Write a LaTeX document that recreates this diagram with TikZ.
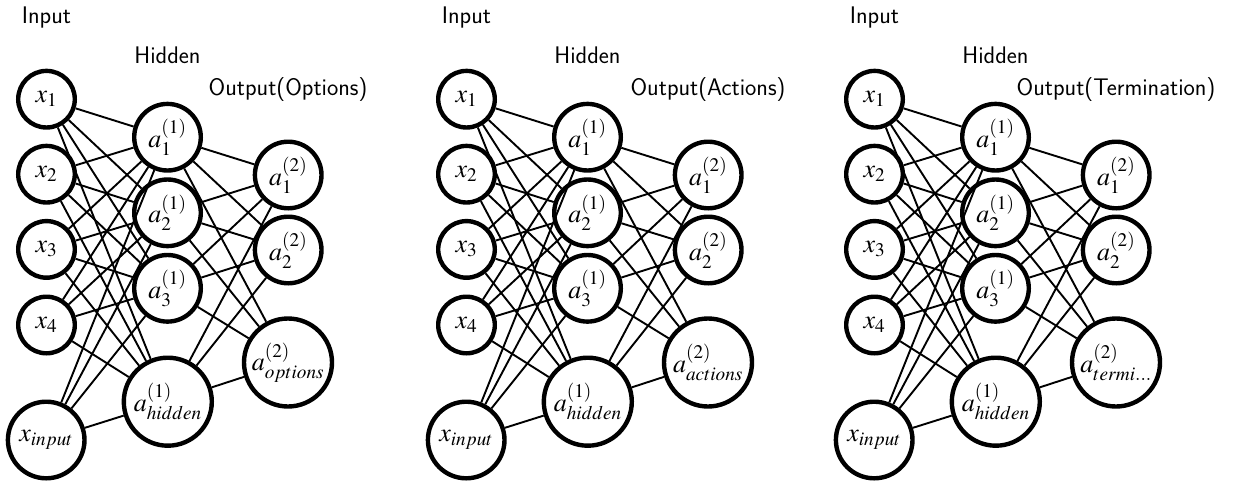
\documentclass[tikz,border=0pt]{standalone}
\usepackage{mathptmx}
\tikzset{
  neuron/.style={circle,draw=black,line width=4.4pt,inner sep=0pt,font=\fontsize{26}{30}\selectfont},
  sn/.style={neuron,minimum size=56.6pt},
  mn/.style={neuron,minimum size=66.6pt},
  bn/.style={neuron,minimum size=88pt},
  edge/.style={line width=1.9pt,black},
  lab/.style={font=\sffamily\fontsize{24}{29}\selectfont,anchor=base,inner sep=0pt}
}
\newcommand\nnpanel[4]{%
  % inputs
  \node[sn] (#2x1) at ({#1+46.5},99.2) {$x_1$};
  \node[sn] (#2x2) at ({#1+46.5},174.2) {$x_2$};
  \node[sn] (#2x3) at ({#1+46.5},249.4) {$x_3$};
  \node[sn] (#2x4) at ({#1+46.5},325) {$x_4$};
  \node[neuron,minimum size=76.6pt] (#2xin) at ({#1+46.2},440) {$x_{input}$};
  % hidden
  \node[mn] (#2h1) at ({#1+167.5},137.2) {$a^{(1)}_1$};
  \node[mn] (#2h2) at ({#1+167.5},212.8) {$a^{(1)}_2$};
  \node[mn] (#2h3) at ({#1+167.5},288.3) {$a^{(1)}_3$};
  \node[bn] (#2hh) at ({#1+167.8},401.7) {$a^{(1)}_{hidden}$};
  % outputs
  \node[mn] (#2o1) at ({#1+288.2},175) {$a^{(2)}_1$};
  \node[mn] (#2o2) at ({#1+288.2},250) {$a^{(2)}_2$};
  \node[bn] (#2oo) at ({#1+288},362.5) {$a^{(2)}_{#4}$};
  % labels
  \node[lab] (#2tin) at ({#1+46.5},23) {Input};
  \node[lab] (#2thid) at ({#1+167.5},63) {Hidden};
  \node[lab] (#2tout) at ({#1+288},95) {Output(#3)};
  % edges
  \foreach \i in {x1,x2,x3,x4,xin}{
    \foreach \j in {h1,h2,h3,hh}{
      \draw[edge] (#2\i) -- (#2\j);
    }
  }
  \foreach \i in {h1,h2,h3,hh}{
    \foreach \j in {o1,o2,oo}{
      \draw[edge] (#2\i) -- (#2\j);
    }
  }
}
\begin{document}
\begin{tikzpicture}[x=1pt,y=-1pt]
  \useasboundingbox (0,0) rectangle (1244,482);
  \nnpanel{0}{A}{Options}{options}
  \nnpanel{420}{B}{Actions}{actions}
  \nnpanel{828}{C}{Termination}{termi...}
\end{tikzpicture}
\end{document}
